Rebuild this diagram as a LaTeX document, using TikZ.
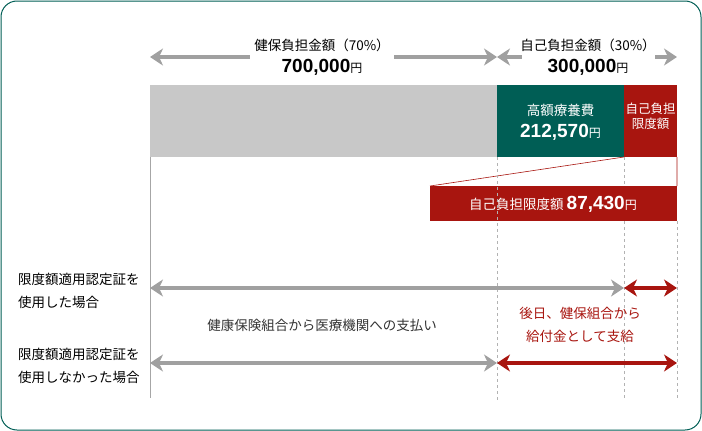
\documentclass[tikz,border=0pt]{standalone}
\usepackage{fontspec}
\setmainfont{Noto Sans CJK JP}
\newfontfamily\jpf{Noto Sans CJK JP}
\newfontfamily\numf{Liberation Sans}
\usetikzlibrary{arrows.meta}
\definecolor{teal0}{HTML}{005E55}
\definecolor{red0}{HTML}{A8150F}
\definecolor{gr0}{HTML}{A0A0A0}
\definecolor{bar0}{HTML}{C8C8C8}
\newcommand{\yen}{{\jpf\mdseries\fontsize{12}{12}\selectfont 円}}
\begin{document}
\begin{tikzpicture}[x=1pt,y=-1pt,
  garr/.style={gr0,line width=4.5pt,{Stealth[length=13pt,width=17pt,inset=4pt]}-{Stealth[length=13pt,width=17pt,inset=4pt]}},
  rarr/.style={garr,red0},
  dsh/.style={gray!60,dashed,line width=0.6pt},
  lbl/.style={font=\fontsize{13.5}{22.5}\selectfont,align=left,anchor=west,inner sep=0pt},
  txt/.style={font=\fontsize{13.5}{23}\selectfont,inner sep=1pt},
  big/.style={font=\fontsize{19}{20}\selectfont\numf\bfseries,inner sep=1pt}]
\useasboundingbox (0,0) rectangle (702,431);
\draw[teal0,line width=1pt,rounded corners=16pt] (1,1) rectangle (701,430);
% bars
\fill[bar0] (150,85) rectangle (497,157);
\fill[teal0] (497,85) rectangle (624,157);
\fill[red0] (624,85) rectangle (677,157);
\node[white,txt] (tb) at (560.5,110) {高額療養費};
\node[white,big] (tb2) at (560.5,132) {212,570\yen};
\node[white,font=\fontsize{12.5}{15}\selectfont,align=center,inner sep=0pt] (rb) at (650.5,116) {自己負担\\限度額};
% expansion
\coordinate (p1) at (624,157);
\coordinate (p2) at (677,157);
\draw[red0,line width=0.6pt] (p1) -- (430,186) (p2) -- (677,186);
\fill[red0] (430,186) rectangle (677,221);
\node[white,txt] (lim) at (553,204) {自己負担限度額 {\numf\fontsize{19}{20}\selectfont\bfseries 87,430}\yen};
% verticals
\draw[gray!70,line width=0.6pt] (150,157) -- (150,398);
\draw[dsh] (497,157) -- (497,400);
\draw[dsh] (624,157) -- (624,186) (624,221) -- (624,400);
\draw[dsh] (677,221) -- (677,400);
% top arrows
\node[txt] (h1) at (322,45) {健保負担金額（70\%）};
\node[big] (h2) at (322,67) {700,000\yen};
\node[txt] (s1) at (588,45) {自己負担金額（30\%）};
\node[big] (s2) at (588,67) {300,000\yen};
\coordinate (a0) at (150,57); \coordinate (a1) at (497,57); \coordinate (a2) at (677,57);
\draw[gr0,line width=4.5pt,{Stealth[length=13pt,width=17pt,inset=4pt]}-] (a0) -- (250,57);
\draw[gr0,line width=4.5pt,-{Stealth[length=13pt,width=17pt,inset=4pt]}] (394,57) -- (a1);
\draw[gr0,line width=4.5pt,{Stealth[length=13pt,width=17pt,inset=4pt]}-] (a1) -- (522,57);
\draw[gr0,line width=4.5pt,-{Stealth[length=13pt,width=17pt,inset=4pt]}] (655,57) -- (a2);
% rows
\node[lbl] (l1) at (18,291) {限度額適用認定証を\\使用した場合};
\node[lbl] (l2) at (18,366) {限度額適用認定証を\\使用しなかった場合};
\coordinate (r1a) at (150,288); \coordinate (r1b) at (624,288); \coordinate (r1c) at (677,288);
\coordinate (r2a) at (150,363); \coordinate (r2b) at (497,363); \coordinate (r2c) at (677,363);
\draw[garr] (r1a) -- (r1b);
\draw[rarr] (r1b) -- (r1c);
\draw[garr] (r2a) -- (r2b);
\draw[rarr] (r2b) -- (r2c);
\node[txt,gray!40!black] (mid) at (322,325) {健康保険組合から医療機関への支払い};
\node[txt,red0,align=center] (rt) at (580,325) {後日、健保組合から\\給付金として支給};
\end{tikzpicture}
\end{document}
